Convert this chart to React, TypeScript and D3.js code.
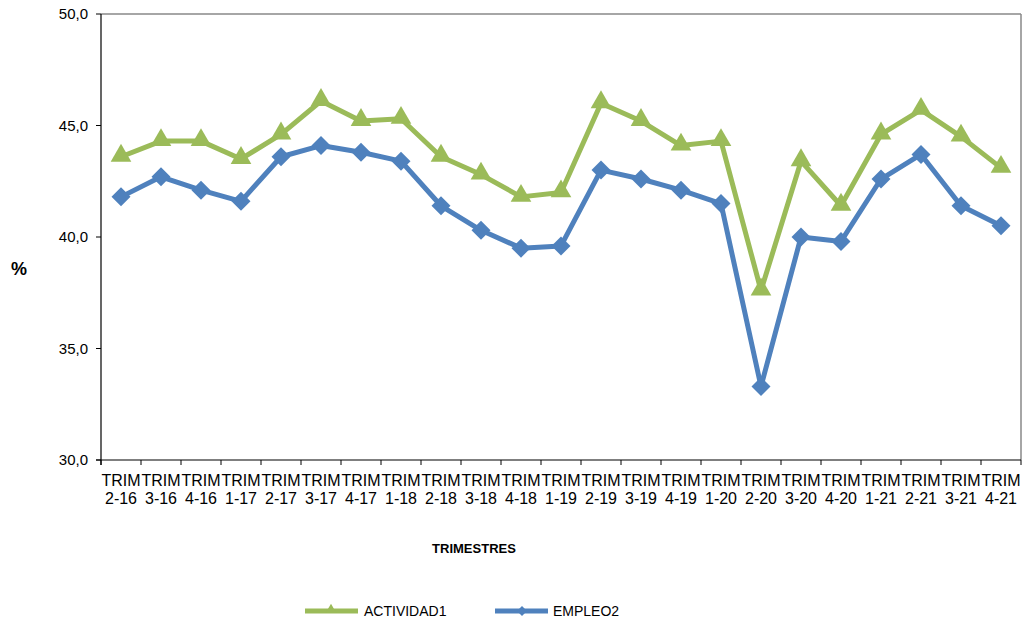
import * as d3 from "d3";
import React from "react";

const categories = [
  "2-16", "3-16", "4-16", "1-17", "2-17", "3-17", "4-17", "1-18", "2-18", "3-18", "4-18", "1-19",
  "2-19", "3-19", "4-19", "1-20", "2-20", "3-20", "4-20", "1-21", "2-21", "3-21", "4-21",
];
const actividad = [
  43.6, 44.3, 44.3, 43.5, 44.6, 46.1, 45.2, 45.3, 43.6, 42.8, 41.8, 42.0,
  46.0, 45.2, 44.1, 44.3, 37.6, 43.4, 41.4, 44.6, 45.7, 44.5, 43.1,
];
const empleo = [
  41.8, 42.7, 42.1, 41.6, 43.6, 44.1, 43.8, 43.4, 41.4, 40.3, 39.5, 39.6,
  43.0, 42.6, 42.1, 41.5, 33.3, 40.0, 39.8, 42.6, 43.7, 41.4, 40.5,
];
const yTicks = [30, 35, 40, 45, 50];

const GREEN = "#9BBB59";
const BLUE = "#4F81BD";
const FONT = "Liberation Sans, Arial, sans-serif";

export default function App() {
  const width = 1023;
  const height = 622;
  const left = 101, right = 1021, top = 14, bottom = 460;

  const x = d3.scaleBand<string>().domain(categories).range([left, right]);
  const y = d3.scaleLinear().domain([30, 50]).range([bottom, top]);
  const cx = (c: string) => (x(c) as number) + x.bandwidth() / 2;

  const line = d3
    .line<number>()
    .x((_, i) => cx(categories[i]))
    .y((d) => y(d));

  const tri = d3.symbol().type(d3.symbolTriangle).size(185)();
  const dia = (s: number) => `M0,${-s}L${s},0L0,${s}L${-s},0Z`;

  const boundaries = categories.map((c) => x(c) as number).concat([right]);

  return (
    <svg width={width} height={height} style={{ position: "absolute", left: 0, top: 0, fontFamily: FONT }}>
      <rect width={width} height={height} fill="#fff" />
      {/* plot border */}
      <line x1={left} x2={right} y1={top} y2={top} stroke="#888" strokeWidth={1.5} />
      <line x1={right} x2={right} y1={top} y2={bottom} stroke="#888" strokeWidth={1.5} />
      <line x1={left} x2={left} y1={top} y2={bottom + 5} stroke="#000" strokeWidth={1.2} />
      <line x1={left - 5} x2={right} y1={bottom} y2={bottom} stroke="#000" strokeWidth={1.2} />

      {yTicks.map((t) => (
        <g key={t}>
          <line x1={left - 5} x2={left} y1={y(t)} y2={y(t)} stroke="#000" />
          <text x={left - 13} y={y(t) + 5} textAnchor="end" fontSize={15} fill="#000">
            {d3.format(".1f")(t).replace(".", ",")}
          </text>
        </g>
      ))}

      {boundaries.map((b, i) => (
        <line key={i} x1={b} x2={b} y1={bottom} y2={bottom + 5} stroke="#000" />
      ))}
      {categories.map((c) => (
        <text key={c} x={cx(c)} textAnchor="middle" fontSize={16} fill="#000">
          <tspan x={cx(c)} y={486}>TRIM</tspan>
          <tspan x={cx(c)} y={504}>{c}</tspan>
        </text>
      ))}

      <text x={19} y={275} textAnchor="middle" fontSize={18} fontWeight="bold">%</text>
      <text x={474} y={553} textAnchor="middle" fontSize={13} fontWeight="bold">TRIMESTRES</text>

      <path d={line(actividad) as string} fill="none" stroke={GREEN} strokeWidth={5} strokeLinejoin="round" />
      {actividad.map((v, i) => (
        <path key={i} d={tri} transform={`translate(${cx(categories[i])},${y(v) - 1})`} fill={GREEN} />
      ))}
      <path d={line(empleo) as string} fill="none" stroke={BLUE} strokeWidth={5} strokeLinejoin="round" />
      {empleo.map((v, i) => (
        <path key={i} d={dia(9.5)} transform={`translate(${cx(categories[i])},${y(v)})`} fill={BLUE} />
      ))}

      {/* legend */}
      <g>
        <line x1={305} x2={358} y1={611} y2={611} stroke={GREEN} strokeWidth={5} />
        <path d={d3.symbol().type(d3.symbolTriangle).size(50)() as string} transform="translate(331,610)" fill={GREEN} />
        <text x={364} y={616} fontSize={14}>ACTIVIDAD1</text>
        <line x1={495} x2={548} y1={611} y2={611} stroke={BLUE} strokeWidth={5} />
        <path d={dia(5)} transform="translate(522,611)" fill={BLUE} />
        <text x={553} y={616} fontSize={14}>EMPLEO2</text>
      </g>
    </svg>
  );
}
